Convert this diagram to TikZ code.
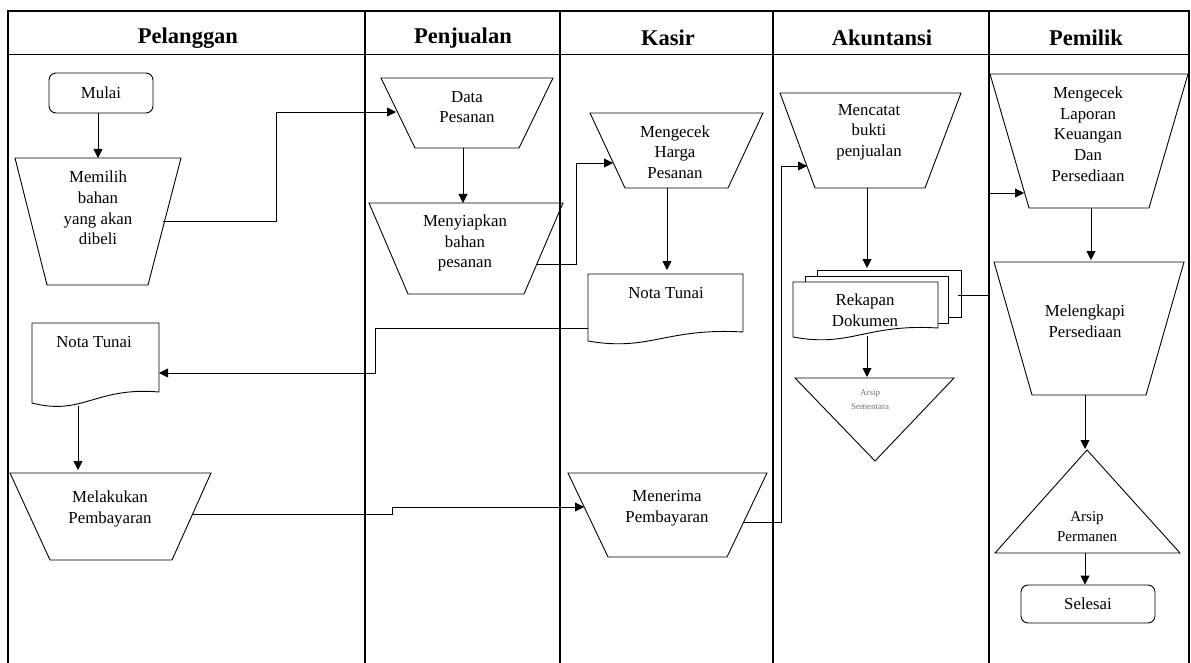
\documentclass[tikz,border=0pt]{standalone}
\usepackage{fontspec}
\setmainfont{Liberation Serif}
\usetikzlibrary{arrows.meta}
\newcommand\docshape[6][]{%
  \draw[shp,#1] (#2,#4) -- (#3,#4) -- (#3,#6)
    .. controls ({#3-0.5*(#3-#2)},{#6-0.5*(#5-#6)}) and ({#2+0.4*(#3-#2)},{#5+1.2*(#5-#6)}) .. (#2,#5) -- cycle;}
\begin{document}
\begin{tikzpicture}[x=1pt,y=-1pt,
  lane/.style={line width=1.1pt},
  shp/.style={draw, line width=0.9pt},
  lbl/.style={align=center, font=\fontsize{16.8}{20.7}\selectfont, inner sep=0pt},
  hdr/.style={font=\fontsize{22.5}{26}\selectfont\bfseries, inner sep=0pt},
  flow/.style={-{Triangle[length=9pt,width=9pt]}, line width=0.9pt},
  term/.style={draw, line width=0.9pt, rounded corners=7pt, lbl}
]
\useasboundingbox (0,0) rectangle (1191,663);
% swimlanes
\draw[lane] (8,663) -- (8,11) -- (1189,11) -- (1189,663);
\draw[lane] (8,54.5) -- (1189,54.5);
\foreach \x in {365,560,773,989} \draw[lane] (\x,11) -- (\x,663);
\node[hdr] (h1) at (188,38) {Pelanggan};
\node[hdr] (h2) at (463,38) {Penjualan};
\node[hdr] (h3) at (668,38) {Kasir};
\node[hdr] (h4) at (882,38) {Akuntansi};
\node[hdr] (h5) at (1086,38) {Pemilik};

% ---- Pelanggan
\node[term, minimum width=104pt, minimum height=40pt] (mulai) at (101,93) {Mulai};
\draw[shp] (15,158) -- (181,158) -- (148,285) -- (47,285) -- cycle;
\node[lbl] (memilih) at (98,208) {Memilih\\bahan\\yang akan\\dibeli};
\docshape{32}{159}{323}{403}{392}
\node[lbl] (notap) at (94,342) {Nota Tunai};
\draw[shp] (10,473) -- (211,473) -- (172,560) -- (50,560) -- cycle;
\node[lbl] (melakukan) at (110,509) {Melakukan\\Pembayaran};

% ---- Penjualan
\draw[shp] (381,78) -- (553,78) -- (519,148) -- (415,148) -- cycle;
\node[lbl] (data) at (467,107) {Data\\Pesanan};
\draw[shp] (369,203) -- (563,203) -- (524,294) -- (408,294) -- cycle;
\node[lbl] (menyiapkan) at (465,243) {Menyiapkan\\bahan\\pesanan};

% ---- Kasir
\draw[shp] (590,113) -- (763,113) -- (728,188) -- (625,188) -- cycle;
\node[lbl] (harga) at (675,152) {Mengecek\\Harga\\Pesanan};
\docshape{588}{743}{274}{341}{332}
\node[lbl] (notak) at (666,293) {Nota Tunai};
\draw[shp] (568,473) -- (767,473) -- (727,557) -- (608,557) -- cycle;
\node[lbl] (menerima) at (667,508) {Menerima\\Pembayaran};

% ---- Akuntansi
\draw[shp] (780,93) -- (961,93) -- (925,188) -- (815,188) -- cycle;
\node[lbl] (mencatat) at (869,132) {Mencatat\\bukti\\penjualan};
\draw[shp] (817,276) -- (817,270) -- (961,270) -- (961,317) -- (948,317);
\draw[shp] (805,282) -- (805,276) -- (948,276) -- (948,323) -- (938,323);
\docshape[fill=white]{793}{938}{282}{337}{328}
\node[lbl] (rekap) at (865,310) {Rekapan\\Dokumen};
\draw[shp] (795,378) -- (954,378) -- (875,461) -- cycle;
\node[align=center, inner sep=0pt, text=black!55, font=\fontsize{9}{14}\selectfont] (sementara) at (870,400) {Arsip\\Sementara};

% ---- Pemilik
\draw[shp] (990,74) -- (1188,74) -- (1149,208) -- (1029,208) -- cycle;
\node[lbl] (laporan) at (1088,134) {Mengecek\\Laporan\\Keuangan\\Dan\\Persediaan};
\draw[shp] (994,262) -- (1184,262) -- (1146,395) -- (1032,395) -- cycle;
\node[lbl] (melengkapi) at (1085,321) {Melengkapi\\Persediaan};
\draw[shp] (1087,450) -- (1180,553) -- (995,553) -- cycle;
\node[align=center, inner sep=0pt, font=\fontsize{15}{20}\selectfont] (permanen) at (1087,527) {Arsip\\Permanen};
\node[term, minimum width=134pt, minimum height=38pt] (selesai) at (1088,604) {Selesai};

% ---- connection points
\coordinate (memilih-t) at (98,158);
\coordinate (memilih-r) at (163,221);
\coordinate (data-l) at (396,112);
\coordinate (data-b) at (463,148);
\coordinate (menyiapkan-t) at (463,203);
\coordinate (menyiapkan-r) at (537,264);
\coordinate (harga-l) at (613,163);
\coordinate (harga-b) at (667,188);
\coordinate (notak-t) at (667,270);
\coordinate (notak-l) at (588,328);
\coordinate (notap-r) at (159,373);
\coordinate (notap-b) at (78,406);
\coordinate (melakukan-t) at (78,470);
\coordinate (melakukan-r) at (193,514);
\coordinate (menerima-l) at (584,507);
\coordinate (menerima-r) at (744,522);
\coordinate (mencatat-l) at (807,166);
\coordinate (mencatat-b) at (867,188);
\coordinate (rekap-t) at (867,268);
\coordinate (rekap-b) at (867,336);
\coordinate (rekap-r) at (958,295);
\coordinate (sementara-t) at (867,377);
\coordinate (laporan-l) at (1024,193);
\coordinate (laporan-b) at (1091,208);
\coordinate (melengkapi-t) at (1091,260);
\coordinate (melengkapi-b) at (1085,395);
\coordinate (permanen-t) at (1085,449);
\coordinate (permanen-b) at (1085,553);

% ---- connectors
\draw[flow] (mulai.south -| memilih-t) -- (memilih-t);
\draw[flow] (memilih-r) -- ++(113,0) |- (data-l);
\draw[flow] (data-b) -- (menyiapkan-t);
\draw[flow] (menyiapkan-r) -- ++(39,0) |- (harga-l);
\draw[flow] (harga-b) -- (notak-t);
\draw[flow] (notak-l) -- ++(-213,0) |- (notap-r);
\draw[flow] (notap-b) -- (melakukan-t);
\draw[flow] (melakukan-r) -- ++(199,0) |- (menerima-l);
\draw[flow] (menerima-r) -- ++(37,0) |- (mencatat-l);
\draw[flow] (mencatat-b) -- (rekap-t);
\draw[flow] (rekap-b) -- (sementara-t);
\draw[flow] (rekap-r) -- ++(31,0) |- (laporan-l);
\draw[flow] (laporan-b) -- (melengkapi-t);
\draw[flow] (melengkapi-b) -- (permanen-t);
\draw[flow] (permanen-b) -- (permanen-b |- selesai.north);
\end{tikzpicture}
\end{document}
